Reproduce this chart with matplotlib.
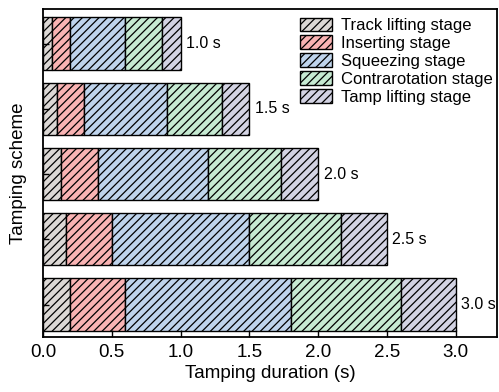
import matplotlib.pyplot as plt
import matplotlib

matplotlib.rcParams['font.family'] = ['Liberation Sans', 'DejaVu Sans']
matplotlib.rcParams['hatch.linewidth'] = 0.9

# 各方案总时长及各阶段时长
schemes = ['1.0 s', '1.5 s', '2.0 s', '2.5 s', '3.0 s']
totals = [1.0, 1.5, 2.0, 2.5, 3.0]
track_lifting = [0.067, 0.10, 0.133, 0.167, 0.20]
inserting = [0.133, 0.20, 0.267, 0.333, 0.40]
squeezing = [0.40, 0.60, 0.80, 1.00, 1.20]
contrarotation = [0.267, 0.40, 0.533, 0.667, 0.80]
tamp_lifting = [0.133, 0.20, 0.267, 0.333, 0.40]

stages = [track_lifting, inserting, squeezing, contrarotation, tamp_lifting]
stage_names = ['Track lifting stage', 'Inserting stage', 'Squeezing stage',
               'Contrarotation stage', 'Tamp lifting stage']
colors = ['#dcd8d5', '#f9b3b3', '#bfd4ec', '#c6ead2', '#d3d3e3']

fig = plt.figure(figsize=(4.99, 3.92), dpi=100)
ax = fig.add_axes([0.086, 0.140, 0.910, 0.837])

ypos = list(range(len(schemes)))
left = [0.0] * len(schemes)
for vals, name, c in zip(stages, stage_names, colors):
    ax.barh(ypos, vals, left=left, height=0.8, color=c, edgecolor='black',
            linewidth=1.0, hatch='////', label=name)
    left = [l + v for l, v in zip(left, vals)]

# 条形右侧标注方案时长
for y, t, s in zip(ypos, totals, schemes):
    ax.text(t + 0.04, y, s, va='center', ha='left', fontsize=11.5)

ax.set_xlim(0, 3.3)
ax.set_ylim(4.5, -0.53)
ax.set_xticks([0, 0.5, 1.0, 1.5, 2.0, 2.5, 3.0])
ax.set_xticklabels(['0.0', '0.5', '1.0', '1.5', '2.0', '2.5', '3.0'])
ax.set_yticks(ypos)
ax.set_yticklabels([])
ax.tick_params(axis='both', direction='in', labelsize=13.5, width=1.0)
ax.tick_params(axis='x', length=5, pad=5)
ax.tick_params(axis='y', length=4)
for sp in ax.spines.values():
    sp.set_linewidth(1.3)

ax.set_xlabel('Tamping duration (s)', fontsize=13.5, labelpad=3)
ax.set_ylabel('Tamping scheme', fontsize=13.5, labelpad=8)

# 图例无边框，放在右上角
ax.legend(loc='upper left', bbox_to_anchor=(0.566, 0.974), fontsize=12,
          frameon=False, borderaxespad=0.0, borderpad=0.0,
          handlelength=1.9, handleheight=0.85, handletextpad=0.55,
          labelspacing=0.15)

plt.savefig('out.png', dpi=100)
plt.close()
